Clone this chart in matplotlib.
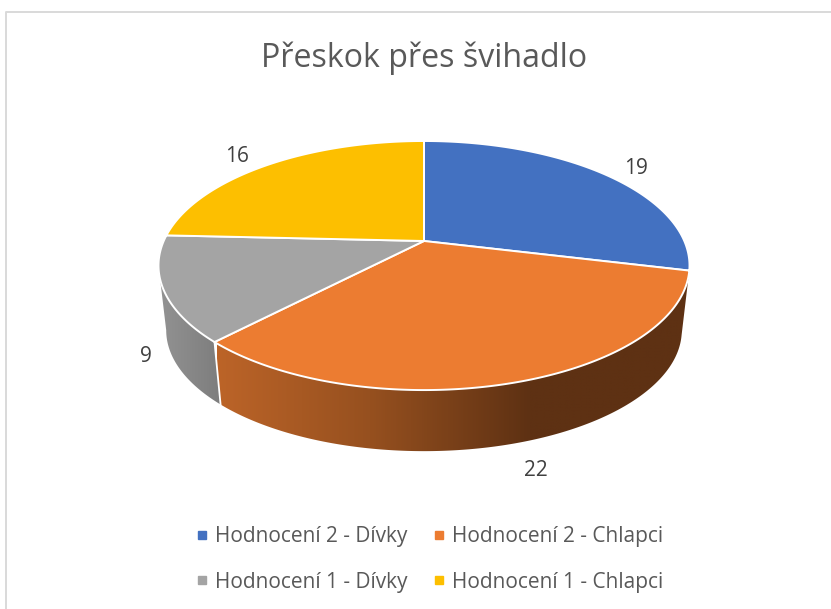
import numpy as np
import matplotlib
matplotlib.use("Agg")
import matplotlib.pyplot as plt
from matplotlib.colors import LinearSegmentedColormap
from matplotlib.lines import Line2D
from matplotlib.patches import Polygon

title = "Přeskok přes švihadlo"
categories = ["Hodnocení 2 - Dívky", "Hodnocení 2 - Chlapci",
              "Hodnocení 1 - Dívky", "Hodnocení 1 - Chlapci"]
values = [19, 22, 9, 16]
colors = ["#4371C1", "#EC7C31", "#A4A4A4", "#FDBF00"]
label_offsets = [(636, 168), (536, 470), (146, 356), (237, 156)]

# wall shading: (screen x, colour) stops for each visible slice
wall_stops = {
    1: [(217, "#BC6428"), (370, "#96501F"), (530, "#5E3113"), (690, "#5E3113")],
    2: [(158, "#939393"), (221, "#7D7D7D")],
}

W, H = 831, 609
TEXT = "#595959"
plt.rcParams["font.family"] = ["Open Sans", "DejaVu Sans"]

# perspective disc parameters, in pixels
CX, CY = 424.0, 241.0
R, A, K = 260.3, 119.7, 0.197
FLOOR_SCALE, FLOOR_CY = 0.971, 306.4


def project(theta, floor=False):
    """Screen position of a rim point, theta measured clockwise from the back."""
    s = 1.0 / (1.0 + K * np.cos(theta))
    f, cy = (FLOOR_SCALE, FLOOR_CY) if floor else (1.0, CY)
    return CX + f * R * np.sin(theta) * s, cy - f * A * np.cos(theta) * s


fig = plt.figure(figsize=(W / 100, H / 100), dpi=100)
ax = fig.add_axes([0, 0, 1, 1])

# chart frame
ax.plot([5.5, 5.5, W + 2], [H + 2, 11.5, 11.5], color="#D9D9D9", lw=1.4, zorder=1)

edges = np.cumsum([0] + values) / sum(values) * 2 * np.pi
# the wall turns out of sight where the rim reaches its widest point on screen
horizon = np.arccos(-K)

# side walls of the slices that face the viewer, filled with a horizontal gradient
for i, stops in wall_stops.items():
    t0 = max(edges[i], horizon)
    t1 = min(edges[i + 1], 2 * np.pi - horizon)
    t = np.linspace(t0, t1, 200)
    tx, ty = project(t)
    bx, by = project(t, floor=True)
    wall = Polygon(np.column_stack([np.r_[tx, bx[::-1]], np.r_[ty, by[::-1]]]),
                   closed=True, transform=ax.transData, facecolor="none", edgecolor="none")
    ax.add_patch(wall)
    x0, x1 = stops[0][0], stops[-1][0]
    cmap = LinearSegmentedColormap.from_list(
        f"wall{i}", [((x - x0) / (x1 - x0), c) for x, c in stops])
    im = ax.imshow(np.linspace(0, 1, 512)[None, :], cmap=cmap, aspect="auto",
                   extent=(x0, x1, 460, 260), zorder=2, interpolation="bilinear")
    im.set_clip_path(wall)

ax.set_xlim(0, W)
ax.set_ylim(H, 0)
ax.axis("off")

# seam between the grey and orange walls
sx, sy = project(edges[2])
fx, fy = project(edges[2], floor=True)
ax.plot([sx, fx], [sy, fy], color="white", lw=1.3, zorder=3)

# top faces
for i, c in enumerate(colors):
    t = np.linspace(edges[i], edges[i + 1], 200)
    x, y = project(t)
    pts = np.column_stack([np.r_[CX, x], np.r_[CY, y]])
    ax.add_patch(Polygon(pts, closed=True, facecolor=c, edgecolor="white", lw=1.4,
                         joinstyle="round", zorder=4))

# data labels
for v, (lx, ly) in zip(values, label_offsets):
    ax.text(lx, ly, str(v), ha="center", va="center", fontsize=15, color="#404040", zorder=5)

ax.text(424.5, 58, title, ha="center", va="center", fontsize=23.1, color=TEXT, zorder=5)

# matplotlib fills legend columns first, so list the entries column by column
order = [0, 2, 1, 3]
handles = [Line2D([], [], linestyle="none", marker="s", markersize=5.8, color=colors[i]) for i in order]
ax.legend(handles, [categories[i] for i in order], ncol=2, loc="center",
          bbox_to_anchor=(429.4 / W, 1 - 559.5 / H), frameon=False, fontsize=15, labelcolor=TEXT,
          handlelength=0.6, handletextpad=0.32, columnspacing=1.25, labelspacing=1.16, borderpad=0)

fig.savefig("out.png", dpi=100)
